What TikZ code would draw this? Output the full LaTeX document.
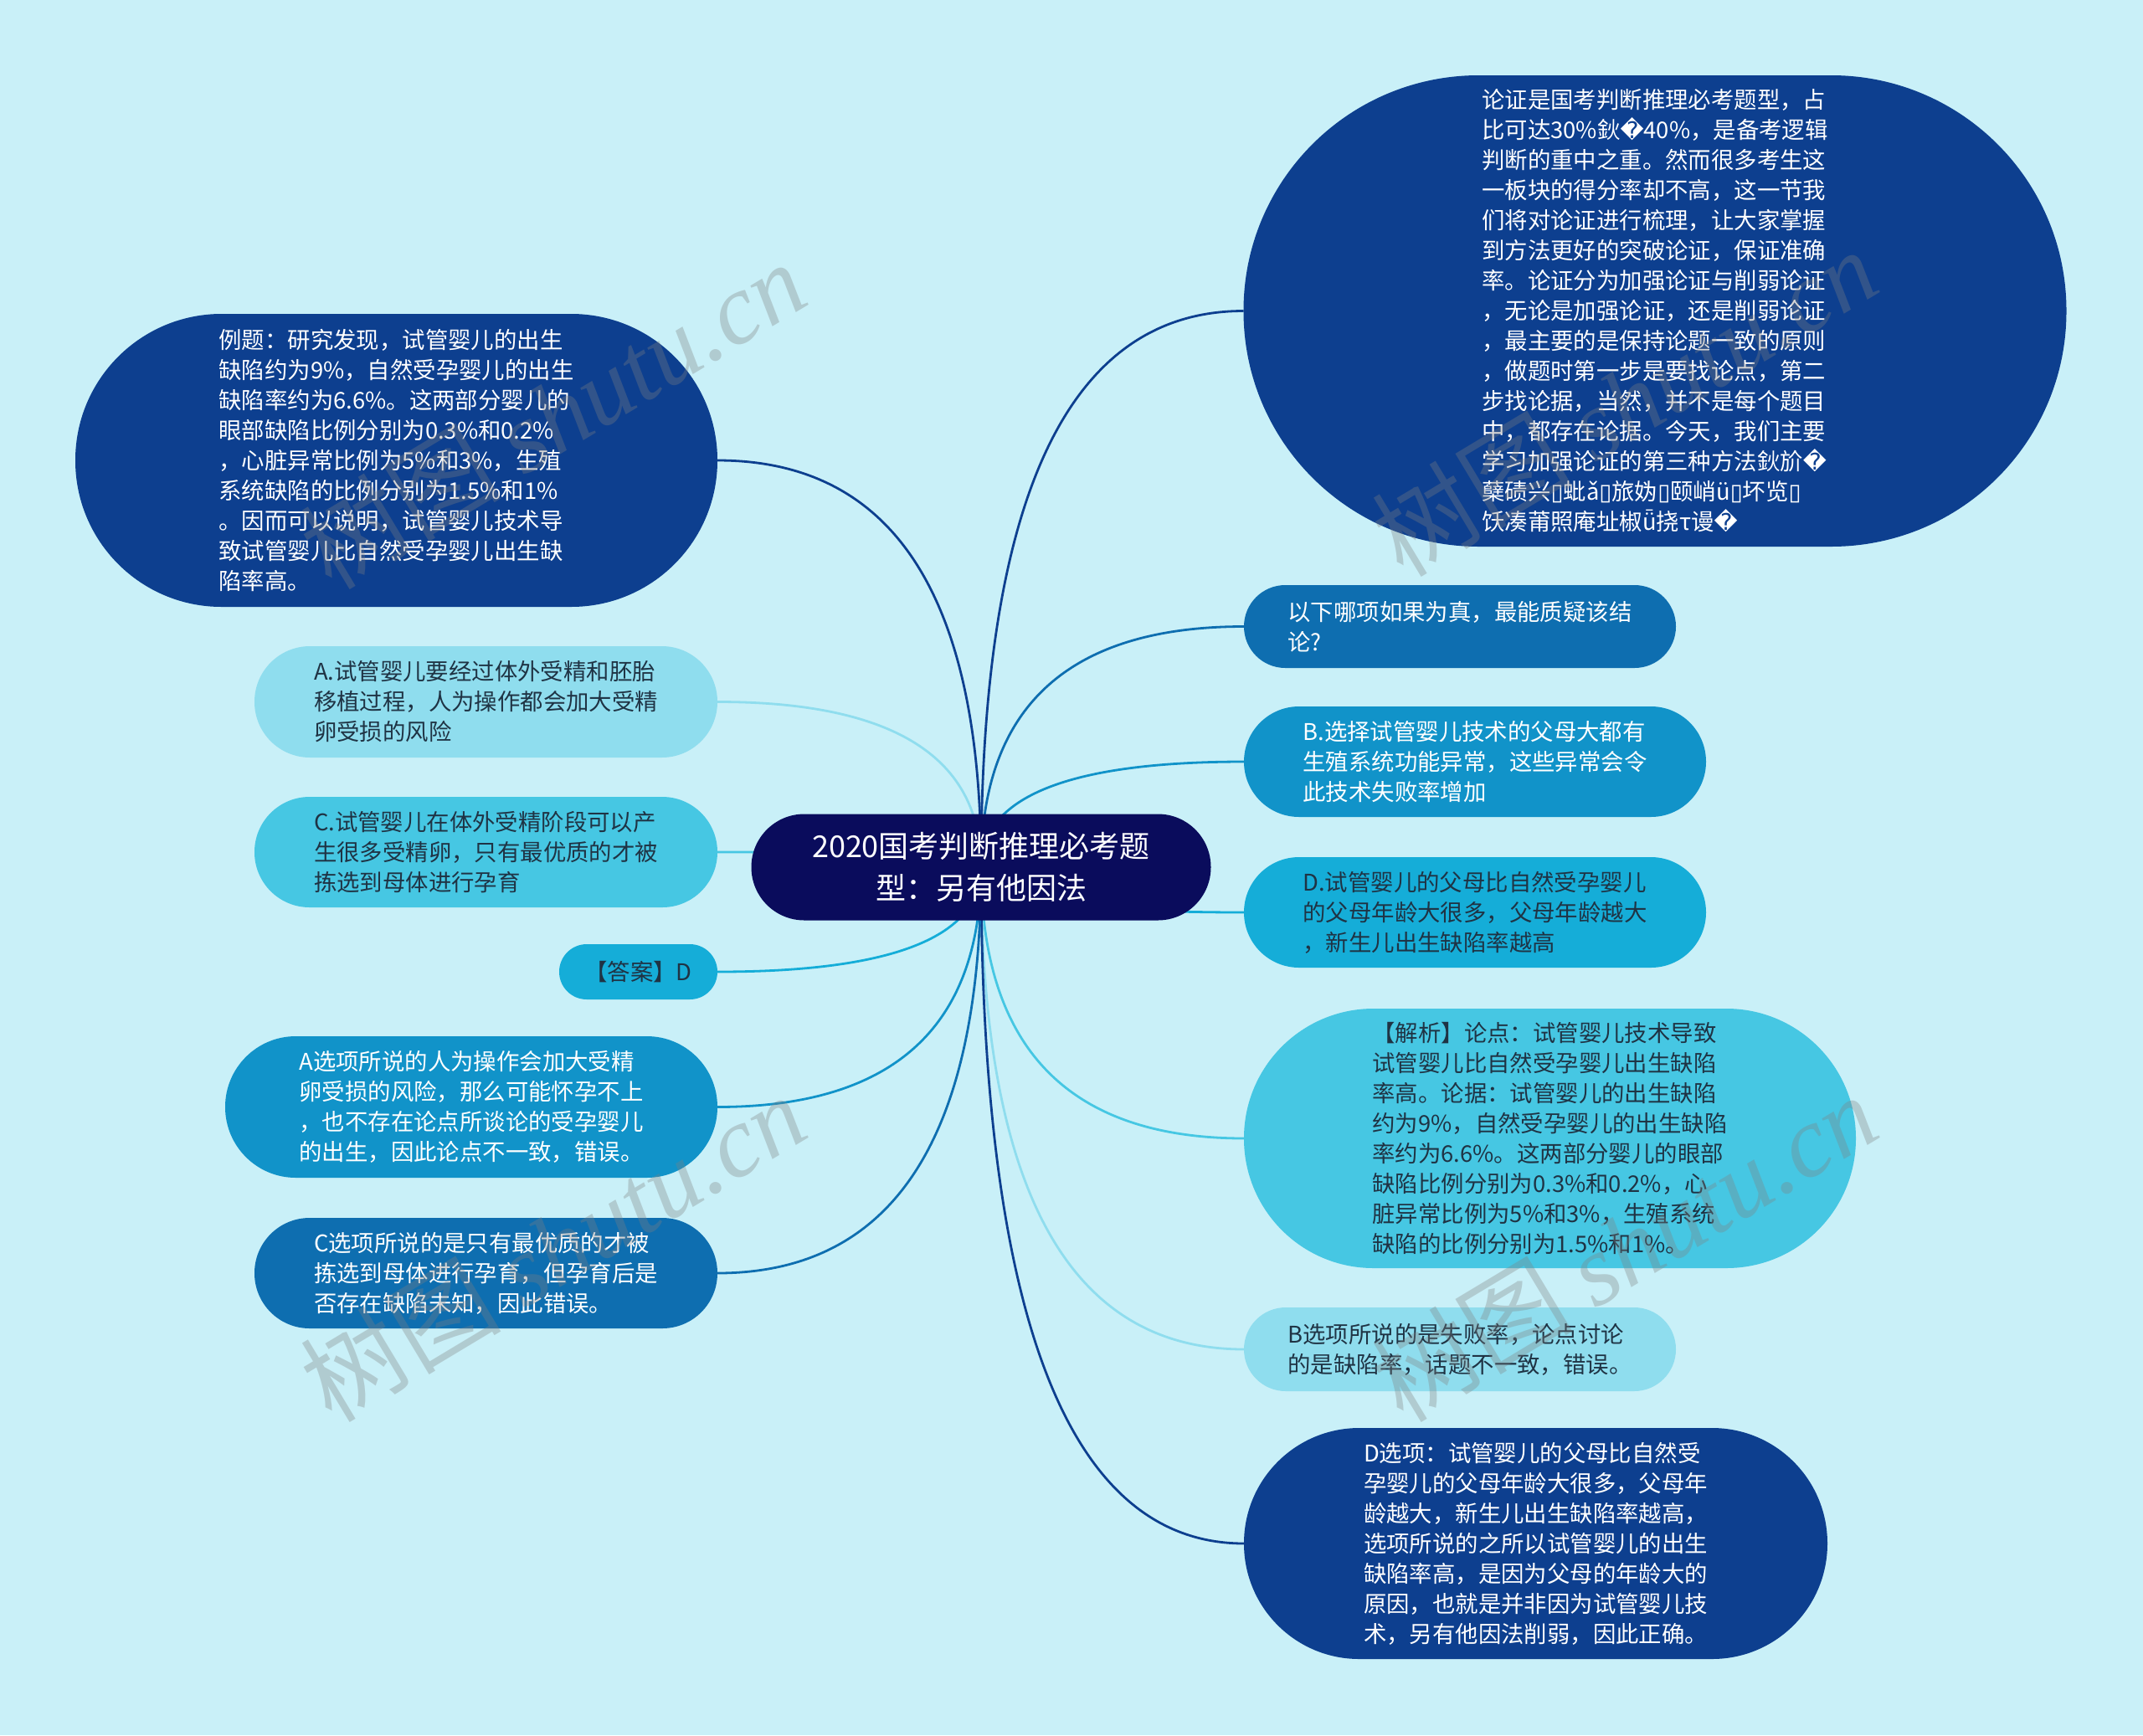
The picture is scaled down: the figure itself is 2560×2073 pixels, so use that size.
\documentclass[tikz,border=0pt]{standalone}
\usepackage{fontspec}
\setmainfont{Noto Sans CJK SC}
\newfontfamily\dvs{DejaVu Sans}
\newfontfamily\wmserif{Liberation Serif}
\usetikzlibrary{calc}
\definecolor{bgc}{HTML}{C9F0F8}
\definecolor{cNavy}{HTML}{0A0C5C}
\definecolor{cDark}{HTML}{0D3F8F}
\definecolor{cMed}{HTML}{0E6EB0}
\definecolor{cMid}{HTML}{1193C9}
\definecolor{cCyan}{HTML}{15ADD8}
\definecolor{cLight}{HTML}{46C7E3}
\definecolor{cPale}{HTML}{8FDDEE}
\definecolor{txtDark}{HTML}{1F3344}
\pgfdeclarelayer{bgfill}
\pgfdeclarelayer{links}
\pgfsetlayers{bgfill,links,main}
\newcommand\linkto[3]{\draw[conn,#1] (C.center) .. controls ($(C.center)!0.667!(C.center |- #2.#3)$) and ($(#2.#3)!0.667!(C.center |- #2.#3)$) .. (#2.#3);}
\tikzset{
  pill/.style n args={2}{rectangle, minimum width=#1*0.5pt, minimum height=#2*0.5pt, rounded corners=#2*0.2495pt, inner sep=0pt, outer sep=0pt},
  body/.style={font=\fontsize{13.7pt}{18pt}\selectfont, align=left},
  onDark/.style={text=white},
  onLight/.style={text=txtDark},
  conn/.style={line width=1.4pt},
  wm/.style={text=gray, opacity=0.33, font=\fontsize{60pt}{66pt}\selectfont\itshape, inner sep=0pt}
}
\begin{document}
\begin{tikzpicture}[x=0.5pt,y=-0.5pt]
\useasboundingbox (0,0) rectangle (2560,2073);
\begin{pgfonlayer}{bgfill}
\fill[bgc] (0,0) rectangle (2560,2073);
\end{pgfonlayer}

% center
\node[pill={549}{127}, fill=cNavy, text=white, align=center, font=\fontsize{18pt}{25pt}\selectfont] (C) at (1172,1036)
  {2020国考判断推理必考题\\型：另有他因法};

% right side
\node[pill={983}{563}, fill=cDark, body, onDark] (R1) at (1977,371.5) {%
论证是国考判断推理必考题型，占\\
比可达30\%鈥{\dvs �}40\%，是备考逻辑\\
判断的重中之重。然而很多考生这\\
一板块的得分率却不高，这一节我\\
们将对论证进行梳理，让大家掌握\\
到方法更好的突破论证，保证准确\\
率。论证分为加强论证与削弱论证\\
，无论是加强论证，还是削弱论证\\
，最主要的是保持论题一致的原则\\
，做题时第一步是要找论点，第二\\
步找论据，当然，并不是每个题目\\
中，都存在论据。今天，我们主要\\
学习加强论证的第三种方法鈥斺{\dvs �}\\
蘖碛兴{\dvs ▯}蚍ǎ{\dvs ▯}旅妫{\dvs ▯}颐峭ü{\dvs ▯}坏览{\dvs ▯}\\
饫凑莆照庵址椒ǖ挠τ谩{\dvs �}};

\node[pill={516}{99}, fill=cMed, body, onDark] (R2) at (1744,748.5) {%
以下哪项如果为真，最能质疑该结\\
论?};

\node[pill={552}{132}, fill=cMid, body, onDark] (R3) at (1762,910) {%
B.选择试管婴儿技术的父母大都有\\
生殖系统功能异常，这些异常会令\\
此技术失败率增加};

\node[pill={552}{132}, fill=cCyan, body, onLight] (R4) at (1762,1090) {%
D.试管婴儿的父母比自然受孕婴儿\\
的父母年龄大很多，父母年龄越大\\
，新生儿出生缺陷率越高};

\node[pill={731}{310}, fill=cLight, body, onLight] (R5) at (1851.5,1360) {%
【解析】论点：试管婴儿技术导致\\
试管婴儿比自然受孕婴儿出生缺陷\\
率高。论据：试管婴儿的出生缺陷\\
约为9\%，自然受孕婴儿的出生缺陷\\
率约为6.6\%。这两部分婴儿的眼部\\
缺陷比例分别为0.3\%和0.2\%，心\\
脏异常比例为5\%和3\%，生殖系统\\
缺陷的比例分别为1.5\%和1\%。};

\node[pill={516}{100}, fill=cPale, body, onLight] (R6) at (1744,1612) {%
B选项所说的是失败率，论点讨论\\
的是缺陷率，话题不一致，错误。};

\node[pill={697}{276}, fill=cDark, body, onDark] (R7) at (1834.5,1844) {%
D选项：试管婴儿的父母比自然受\\
孕婴儿的父母年龄大很多，父母年\\
龄越大，新生儿出生缺陷率越高，\\
选项所说的之所以试管婴儿的出生\\
缺陷率高，是因为父母的年龄大的\\
原因，也就是并非因为试管婴儿技\\
术，另有他因法削弱，因此正确。};

% left side
\node[pill={767}{350}, fill=cDark, body, onDark] (L1) at (473.5,550) {%
例题：研究发现，试管婴儿的出生\\
缺陷约为9\%，自然受孕婴儿的出生\\
缺陷率约为6.6\%。这两部分婴儿的\\
眼部缺陷比例分别为0.3\%和0.2\%\\
，心脏异常比例为5\%和3\%，生殖\\
系统缺陷的比例分别为1.5\%和1\%\\
。因而可以说明，试管婴儿技术导\\
致试管婴儿比自然受孕婴儿出生缺\\
陷率高。};

\node[pill={553}{133}, fill=cPale, body, onLight] (L2) at (580.5,838.5) {%
A.试管婴儿要经过体外受精和胚胎\\
移植过程，人为操作都会加大受精\\
卵受损的风险};

\node[pill={553}{132}, fill=cLight, body, onLight] (L3) at (580.5,1018) {%
C.试管婴儿在体外受精阶段可以产\\
生很多受精卵，只有最优质的才被\\
拣选到母体进行孕育};

\node[pill={189}{66}, fill=cCyan, body, onLight] (L4) at (762.5,1161) {【答案】D};

\node[pill={588}{169}, fill=cMid, body, onDark] (L5) at (563,1322.5) {%
A选项所说的人为操作会加大受精\\
卵受损的风险，那么可能怀孕不上\\
，也不存在论点所谈论的受孕婴儿\\
的出生，因此论点不一致，错误。};

\node[pill={553}{132}, fill=cMed, body, onDark] (L6) at (580.5,1521) {%
C选项所说的是只有最优质的才被\\
拣选到母体进行孕育，但孕育后是\\
否存在缺陷未知，因此错误。};

% connectors
\begin{pgfonlayer}{links}
\linkto{cDark}{R1}{west}
\linkto{cMed}{R2}{west}
\linkto{cMid}{R3}{west}
\linkto{cCyan}{R4}{west}
\linkto{cLight}{R5}{west}
\linkto{cPale}{R6}{west}
\linkto{cDark}{R7}{west}
\linkto{cDark}{L1}{east}
\linkto{cPale}{L2}{east}
\linkto{cLight}{L3}{east}
\linkto{cCyan}{L4}{east}
\linkto{cMid}{L5}{east}
\linkto{cMed}{L6}{east}
\end{pgfonlayer}

% watermarks
\node[wm, rotate=31] (W1) at (660,495) {树图 {\wmserif shutu.cn}};
\node[wm, rotate=31] (W2) at (1940,480) {树图 {\wmserif shutu.cn}};
\node[wm, rotate=31] (W3) at (660,1490) {树图 {\wmserif shutu.cn}};
\node[wm, rotate=31] (W4) at (1940,1490) {树图 {\wmserif shutu.cn}};
\end{tikzpicture}
\end{document}
